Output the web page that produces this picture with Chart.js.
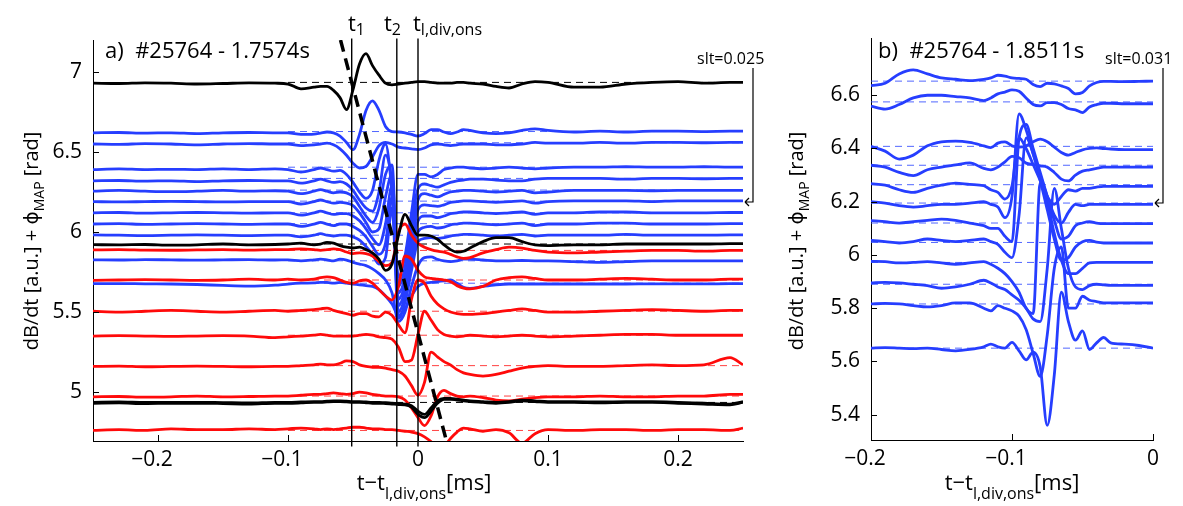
<!DOCTYPE html>
<html>
<head>
<meta charset="utf-8">
<script src="https://cdn.jsdelivr.net/npm/chart.js@4.4.1/dist/chart.umd.min.js"></script>
<style>
  body { margin: 0; background: #fff; }
  #wrapA { position: absolute; left: 0; top: 0; }
  #wrapB { position: absolute; left: 776px; top: 0; }
</style>
</head>
<body>
<div id="wrapA"><canvas id="chartA" width="776" height="506"></canvas></div>
<div id="wrapB"><canvas id="chartB" width="407" height="506"></canvas></div>
<script>
// ---------------- panel a) #25764 - 1.7574s ----------------
const xA = [-0.25,-0.23,-0.21,-0.19,-0.17,-0.15,-0.13,-0.11,
  -0.1,-0.09,-0.08,-0.075,-0.07,-0.065,-0.06,-0.055,-0.05,
  -0.045,-0.04,-0.035,-0.03,-0.025,-0.02,-0.015,-0.01,-0.005,0,
  0.005,0.01,0.015,0.02,0.025,0.03,0.035,0.04,
  0.05,0.06,0.07,0.08,0.09,0.1,
  0.12,0.14,0.16,0.18,0.2,0.22,0.24,0.25];

// black traces
const kTop = [6.93,6.928,6.932,6.93,6.925,6.928,6.932,6.93,
  6.925,6.895,6.905,6.91,6.91,6.885,6.84,6.765,6.89,
  7.05,7.115,7.04,6.98,6.93,6.92,6.925,6.93,6.935,6.94,
  6.94,6.935,6.93,6.93,6.93,6.935,6.935,6.93,
  6.925,6.91,6.90,6.925,6.94,6.935,
  6.905,6.905,6.925,6.935,6.94,6.93,6.935,6.935];
const kMid = [5.921,5.92,5.922,5.918,5.92,5.925,5.92,5.922,
  5.925,5.93,5.92,5.925,5.935,5.93,5.915,5.905,5.90,
  5.905,5.89,5.87,5.83,5.76,5.80,5.98,6.11,6.04,5.98,
  5.98,5.975,5.955,5.92,5.89,5.875,5.88,5.90,
  5.94,5.965,5.965,5.94,5.92,5.915,
  5.92,5.92,5.925,5.925,5.925,5.925,5.928,5.928];
const kLow1 = [4.93,4.932,4.928,4.93,4.93,4.928,4.925,4.93,
  4.93,4.932,4.935,4.935,4.938,4.94,4.94,4.938,4.935,
  4.935,4.933,4.93,4.93,4.928,4.925,4.922,4.92,4.905,4.86,
  4.84,4.88,4.93,4.955,4.955,4.95,4.945,4.94,
  4.935,4.93,4.935,4.945,4.94,4.935,
  4.935,4.932,4.935,4.935,4.93,4.925,4.92,4.935];
const kLow2 = [4.936,4.938,4.935,4.936,4.936,4.934,4.932,4.936,
  4.936,4.938,4.94,4.94,4.943,4.945,4.945,4.943,4.94,
  4.94,4.938,4.936,4.935,4.933,4.93,4.928,4.925,4.915,4.88,
  4.86,4.90,4.945,4.96,4.96,4.955,4.95,4.945,
  4.94,4.935,4.94,4.95,4.945,4.94,
  4.94,4.938,4.94,4.94,4.936,4.93,4.925,4.94];

// blue traces
const b1 = [6.62,6.622,6.618,6.62,6.615,6.62,6.622,6.62,
  6.62,6.61,6.612,6.618,6.625,6.62,6.60,6.56,6.515,
  6.61,6.76,6.82,6.76,6.66,6.628,6.625,6.62,6.61,6.60,
  6.615,6.64,6.64,6.625,6.615,6.625,6.64,6.635,
  6.62,6.615,6.62,6.635,6.645,6.635,
  6.625,6.63,6.625,6.63,6.63,6.628,6.63,6.63];
const b2 = [6.55,6.548,6.552,6.55,6.545,6.55,6.553,6.55,
  6.55,6.54,6.545,6.55,6.555,6.545,6.52,6.48,6.43,
  6.40,6.41,6.47,6.54,6.56,6.55,6.53,6.525,6.52,6.515,
  6.525,6.545,6.55,6.545,6.54,6.545,6.55,6.55,
  6.55,6.545,6.545,6.55,6.56,6.555,
  6.555,6.56,6.555,6.56,6.56,6.558,6.56,6.56];
const b3 = [6.39,6.395,6.39,6.392,6.39,6.395,6.39,6.395,
  6.39,6.375,6.39,6.40,6.39,6.38,6.385,6.36,6.31,
  6.25,6.21,6.26,6.45,6.55,6.25,5.72,5.85,6.12,6.36,
  6.36,6.345,6.36,6.39,6.40,6.405,6.405,6.40,
  6.395,6.40,6.405,6.40,6.395,6.40,
  6.405,6.405,6.408,6.405,6.405,6.408,6.405,6.405];
const b4 = [6.32,6.322,6.318,6.32,6.315,6.32,6.322,6.32,
  6.32,6.305,6.32,6.33,6.32,6.31,6.315,6.30,6.26,
  6.20,6.15,6.13,6.25,6.48,6.30,5.66,5.78,6.05,6.27,
  6.30,6.29,6.28,6.295,6.31,6.32,6.325,6.33,
  6.33,6.325,6.32,6.32,6.33,6.335,
  6.335,6.335,6.33,6.335,6.335,6.333,6.335,6.335];
const b5 = [6.255,6.26,6.255,6.252,6.255,6.26,6.255,6.258,
  6.255,6.24,6.255,6.265,6.255,6.245,6.25,6.245,6.22,
  6.16,6.10,6.06,6.15,6.36,6.42,5.62,5.72,5.98,6.20,
  6.24,6.23,6.22,6.235,6.25,6.255,6.26,6.26,
  6.255,6.25,6.255,6.26,6.245,6.25,
  6.26,6.26,6.26,6.258,6.26,6.26,6.26,6.26];
const b6 = [6.19,6.188,6.19,6.192,6.19,6.188,6.19,6.19,
  6.19,6.175,6.19,6.20,6.19,6.18,6.185,6.18,6.165,
  6.12,6.06,6.00,6.02,6.22,6.36,5.58,5.68,5.92,6.14,
  6.17,6.165,6.16,6.17,6.185,6.19,6.195,6.195,
  6.19,6.185,6.19,6.195,6.18,6.19,
  6.195,6.195,6.195,6.19,6.195,6.195,6.195,6.195];
const b7 = [6.12,6.122,6.118,6.12,6.122,6.12,6.118,6.12,
  6.12,6.105,6.12,6.13,6.12,6.11,6.115,6.115,6.10,
  6.07,6.02,5.96,5.92,6.05,6.29,5.54,5.64,5.87,6.07,
  6.10,6.10,6.09,6.10,6.115,6.12,6.125,6.125,
  6.12,6.115,6.12,6.125,6.11,6.12,
  6.12,6.125,6.125,6.12,6.12,6.12,6.122,6.122];
const b8 = [6.05,6.052,6.048,6.05,6.052,6.05,6.048,6.05,
  6.05,6.035,6.05,6.06,6.05,6.04,6.05,6.05,6.035,
  6.01,5.97,5.91,5.86,5.93,6.22,5.50,5.60,5.82,6.0,
  6.03,6.035,6.025,6.03,6.045,6.05,6.055,6.055,
  6.05,6.045,6.05,6.055,6.04,6.05,
  6.05,6.055,6.055,6.05,6.05,6.05,6.052,6.052];
const b9 = [5.982,5.98,5.978,5.98,5.982,5.98,5.978,5.98,
  5.98,5.97,5.98,5.99,5.98,5.975,5.98,5.98,5.97,
  5.95,5.91,5.86,5.80,5.84,6.15,5.46,5.56,5.76,5.94,
  5.96,5.965,5.96,5.965,5.975,5.98,5.985,5.985,
  5.98,5.975,5.98,5.985,5.975,5.98,
  5.98,5.98,5.985,5.98,5.98,5.98,5.982,5.982];
const b10 = [5.826,5.825,5.828,5.826,5.824,5.826,5.828,5.825,
  5.826,5.82,5.826,5.83,5.826,5.82,5.83,5.825,5.81,
  5.80,5.79,5.77,5.74,5.70,5.62,5.44,5.50,5.66,5.79,
  5.84,5.845,5.83,5.82,5.815,5.82,5.83,5.83,
  5.825,5.82,5.82,5.822,5.82,5.82,
  5.815,5.81,5.815,5.82,5.82,5.82,5.82,5.82];
const b11 = [5.677,5.678,5.676,5.675,5.672,5.666,5.662,5.668,
  5.675,5.68,5.682,5.685,5.685,5.68,5.685,5.68,5.675,
  5.67,5.665,5.66,5.64,5.60,5.55,5.48,5.52,5.60,5.66,
  5.68,5.685,5.69,5.695,5.70,5.68,5.655,5.648,
  5.66,5.67,5.675,5.675,5.675,5.675,
  5.675,5.675,5.675,5.676,5.676,5.676,5.677,5.677];

// red traces
const r1 = [5.888,5.89,5.887,5.886,5.888,5.89,5.887,5.89,
  5.89,5.895,5.89,5.885,5.89,5.895,5.89,5.875,5.865,
  5.87,5.865,5.85,5.815,5.79,5.81,6.0,6.05,5.98,5.93,
  5.905,5.89,5.88,5.875,5.86,5.845,5.835,5.84,
  5.87,5.89,5.905,5.90,5.885,5.875,
  5.87,5.875,5.88,5.885,5.885,5.88,5.885,5.885];
const r2 = [5.698,5.70,5.702,5.70,5.698,5.70,5.705,5.70,
  5.705,5.70,5.705,5.715,5.72,5.715,5.70,5.685,5.68,
  5.695,5.70,5.68,5.64,5.60,5.575,5.66,5.85,5.83,5.76,
  5.72,5.71,5.705,5.70,5.69,5.665,5.65,5.645,
  5.66,5.70,5.715,5.72,5.71,5.70,
  5.70,5.705,5.71,5.705,5.70,5.70,5.705,5.705];
const r3 = [5.505,5.50,5.505,5.51,5.505,5.50,5.505,5.51,
  5.505,5.51,5.515,5.52,5.525,5.51,5.50,5.49,5.48,
  5.49,5.49,5.475,5.47,5.50,5.48,5.42,5.37,5.58,5.70,
  5.68,5.60,5.55,5.52,5.50,5.49,5.485,5.485,
  5.49,5.50,5.51,5.52,5.51,5.50,
  5.50,5.505,5.51,5.515,5.51,5.505,5.51,5.51];
const r4 = [5.35,5.352,5.35,5.348,5.35,5.352,5.35,5.34,
  5.345,5.35,5.355,5.36,5.355,5.35,5.35,5.35,5.35,
  5.355,5.36,5.355,5.345,5.34,5.33,5.28,5.19,5.20,5.36,
  5.505,5.45,5.39,5.36,5.35,5.345,5.35,5.355,
  5.35,5.345,5.35,5.355,5.35,5.345,
  5.35,5.355,5.36,5.36,5.355,5.355,5.355,5.355];
const r5 = [5.16,5.162,5.158,5.16,5.162,5.16,5.158,5.16,
  5.16,5.165,5.17,5.175,5.17,5.17,5.18,5.195,5.19,
  5.17,5.16,5.155,5.155,5.15,5.14,5.13,5.10,5.04,4.98,
  5.06,5.25,5.22,5.19,5.17,5.14,5.12,5.11,
  5.10,5.11,5.13,5.15,5.16,5.165,
  5.16,5.16,5.165,5.17,5.165,5.17,5.215,5.17];
const r6 = [4.97,4.972,4.968,4.97,4.975,4.97,4.972,4.975,
  4.975,4.98,4.985,4.985,4.99,4.995,4.99,4.985,4.99,
  5.0,4.995,4.985,4.98,4.975,4.975,4.97,4.95,4.90,4.84,
  4.79,4.85,4.97,5.01,4.99,4.975,4.97,4.975,
  4.965,4.95,4.945,4.955,4.965,4.97,
  4.97,4.975,4.97,4.97,4.975,4.975,4.985,4.985];
const r7 = [4.76,4.765,4.76,4.77,4.765,4.765,4.77,4.765,
  4.77,4.775,4.77,4.765,4.77,4.765,4.77,4.775,4.78,
  4.78,4.775,4.77,4.77,4.765,4.765,4.76,4.755,4.75,4.74,
  4.72,4.69,4.65,4.66,4.71,4.75,4.775,4.77,
  4.755,4.765,4.745,4.68,4.74,4.765,
  4.76,4.765,4.765,4.76,4.765,4.765,4.76,4.775];

// reference (dashed) levels
const refBlackA = [6.935, 5.925, 4.935];
const refBlueA = [6.628, 6.558, 6.405, 6.335, 6.262, 6.193, 6.12, 6.052, 5.98, 5.82, 5.68];
const refRedA = [5.885, 5.70, 5.505, 5.355, 5.165, 4.975, 4.76];

const xTicksA = [-0.2, -0.1, 0, 0.1, 0.2];
const yTicksA = [5, 5.5, 6, 6.5, 7];
const tMarks = [-0.051, -0.0163, 0];
const tSubs = ['1', '2', 'l,div,ons'];
const tLabelX = [348, 384, 413];
const frontX = [-0.0596, 0.0219];
const frontY = [7.2, 4.694];

// ---------------- panel b) #25764 - 1.8511s ----------------
const xB = [-0.2,-0.19,-0.18,-0.17,-0.16,-0.15,-0.14,-0.13,-0.12,-0.115,
  -0.11,-0.105,-0.1,-0.095,-0.09,-0.085,-0.08,-0.075,-0.07,-0.065,
  -0.06,-0.055,-0.05,-0.045,-0.04,-0.035,-0.03,-0.02,-0.01,0];
const p1 = [6.636,6.645,6.68,6.695,6.68,6.665,6.66,6.655,6.66,6.665,
  6.675,6.672,6.665,6.663,6.66,6.64,6.632,6.645,6.643,6.635,
  6.625,6.605,6.61,6.635,6.648,6.652,6.652,6.651,6.652,6.653];
const p2 = [6.559,6.548,6.565,6.59,6.60,6.60,6.595,6.59,6.58,6.59,
  6.605,6.612,6.62,6.615,6.59,6.565,6.56,6.572,6.572,6.565,
  6.55,6.545,6.535,6.556,6.565,6.57,6.57,6.568,6.568,6.568];
const p3 = [6.408,6.39,6.36,6.375,6.41,6.425,6.428,6.423,6.41,6.403,
  6.42,6.425,6.41,6.405,6.41,6.425,6.435,6.425,6.405,6.385,
  6.375,6.385,6.395,6.40,6.402,6.40,6.398,6.396,6.396,6.396];
const p4 = [6.337,6.33,6.31,6.298,6.32,6.33,6.338,6.346,6.325,6.32,
  6.33,6.35,6.37,6.365,6.345,6.34,6.335,6.33,6.31,6.285,
  6.278,6.30,6.315,6.32,6.325,6.33,6.33,6.33,6.33,6.33];
const p5 = [6.268,6.262,6.245,6.235,6.25,6.262,6.27,6.265,6.26,6.245,
  6.235,6.21,6.26,6.44,6.40,6.34,6.28,6.22,6.19,6.22,
  6.245,6.24,6.25,6.25,6.255,6.258,6.258,6.258,6.258,6.258];
const p6 = [6.20,6.195,6.185,6.18,6.185,6.19,6.19,6.195,6.20,6.19,
  6.18,6.14,6.22,6.53,6.47,6.38,6.30,6.22,6.15,6.12,
  6.16,6.19,6.185,6.19,6.19,6.19,6.19,6.19,6.19,6.19];
const p7 = [6.129,6.125,6.12,6.125,6.13,6.135,6.13,6.12,6.11,6.10,
  6.10,6.07,6.05,6.44,6.49,6.40,6.31,6.22,6.13,6.06,
  6.07,6.11,6.12,6.125,6.12,6.118,6.118,6.118,6.118,6.118];
const p8 = [6.055,6.05,6.045,6.05,6.06,6.055,6.05,6.055,6.06,6.05,
  6.04,6.01,5.99,6.15,6.44,6.38,6.28,6.17,6.06,5.98,
  5.99,6.03,6.05,6.055,6.048,6.045,6.045,6.045,6.045,6.045];
const p9 = [5.976,5.975,5.97,5.972,5.975,5.97,5.965,5.97,5.975,5.965,
  5.95,5.93,5.90,5.86,5.80,5.78,6.27,6.20,6.08,5.98,
  5.93,5.93,5.95,5.97,5.972,5.972,5.972,5.972,5.972,5.972];
const p10 = [5.895,5.897,5.895,5.89,5.885,5.875,5.88,5.89,5.905,5.895,
  5.88,5.87,5.85,5.83,5.80,5.76,5.75,5.95,6.25,6.10,
  5.95,5.88,5.87,5.885,5.89,5.888,5.886,5.886,5.886,5.886];
const p11 = [5.816,5.818,5.816,5.81,5.805,5.81,5.82,5.82,5.80,5.79,
  5.81,5.80,5.79,5.77,5.72,5.63,5.544,5.70,5.95,6.03,
  5.80,5.80,5.845,5.83,5.825,5.82,5.82,5.82,5.82,5.82];
const p12 = [5.65,5.652,5.65,5.648,5.65,5.645,5.64,5.645,5.655,5.665,
  5.655,5.65,5.672,5.64,5.606,5.635,5.58,5.36,5.55,5.86,
  5.75,5.68,5.715,5.645,5.67,5.69,5.67,5.665,5.66,5.65];
const refBlueB = [6.653, 6.575, 6.408, 6.337, 6.264, 6.195, 6.12, 6.047, 5.972, 5.89, 5.816, 5.65];

const xTicksB = [-0.2, -0.1, 0];
const yTicksB = [5.4, 5.6, 5.8, 6, 6.2, 6.4, 6.6];

// ---------------- drawing ----------------
const BLUE = 'rgb(38,62,255)';
const RED = 'rgb(255,10,10)';
const BLACK = '#000';
const BLUE_REF = 'rgba(50,75,255,0.85)';
const RED_REF = 'rgba(255,30,30,0.85)';
const FAM = '"Open Sans", "DejaVu Sans", sans-serif';
const font = s => s + 'px ' + FAM;

function trace(xs, ys, color, order) {
  return {
    data: xs.map((x, i) => ({ x, y: ys[i] })),
    borderColor: color, borderWidth: 2.8, pointRadius: 0,
    cubicInterpolationMode: 'monotone', order
  };
}
function refLine(x0, x1, v, color) {
  return {
    data: [{ x: x0, y: v }, { x: x1, y: v }],
    borderColor: color, borderWidth: 1, pointRadius: 0,
    borderDash: [7, 5], order: 5
  };
}
function fmtX(v) {
  if (v === 0) return '0';
  return v < 0 ? '\u2212' + Math.abs(v) + '\u2007' : String(v);
}

// text with subscripts: parts = [[text, isSub], ...]
function rich(ctx, parts, x, y, size, align, subDy) {
  const sub = Math.round(size * 0.72);
  let total = 0;
  const w = parts.map(p => { ctx.font = font(p[1] ? sub : size); const m = ctx.measureText(p[0]).width; total += m; return m; });
  let cx = align === 'center' ? x - total / 2 : x;
  ctx.textAlign = 'left';
  ctx.textBaseline = 'alphabetic';
  parts.forEach((p, i) => {
    ctx.font = font(p[1] ? sub : size);
    ctx.fillText(p[0], cx, y + (p[1] ? subDy : 0));
    cx += w[i];
  });
}
const yTitle = [['dB/dt [a.u.] + \u03D5', false], ['MAP', true], [' [rad]', false]];
const xTitle = [['t\u2212t', false], ['l,div,ons', true], ['[ms]', false]];

function drawBracket(ctx, bx, y0, y1) {
  ctx.beginPath();
  ctx.moveTo(bx, y0); ctx.lineTo(bx, y1); ctx.lineTo(bx - 8, y1);
  ctx.moveTo(bx - 8, y1); ctx.lineTo(bx - 4, y1 - 4);
  ctx.moveTo(bx - 8, y1); ctx.lineTo(bx - 4, y1 + 4);
  ctx.stroke();
}

const innerTicks = {
  id: 'innerTicks',
  afterDraw(chart) {
    const { ctx, chartArea: a, scales: { x, y } } = chart;
    ctx.save();
    ctx.strokeStyle = '#000'; ctx.lineWidth = 1;
    ctx.beginPath();
    x.ticks.forEach(t => { const px = Math.round(x.getPixelForValue(t.value)) + 0.5; ctx.moveTo(px, a.bottom); ctx.lineTo(px, a.bottom - 6); });
    y.ticks.forEach(t => { const py = Math.round(y.getPixelForValue(t.value)) + 0.5; ctx.moveTo(a.left, py); ctx.lineTo(a.left + 6, py); });
    ctx.stroke();
    ctx.restore();
  }
};

const decoA = {
  id: 'decoA',
  afterDraw(chart) {
    const { ctx, scales: { x, y } } = chart;
    ctx.save();
    ctx.strokeStyle = '#000'; ctx.fillStyle = '#000'; ctx.lineWidth = 1.4;
    tMarks.forEach((v, i) => {
      const px = x.getPixelForValue(v);
      ctx.beginPath(); ctx.moveTo(px, y.getPixelForValue(7.21)); ctx.lineTo(px, y.getPixelForValue(4.66)); ctx.stroke();
      rich(ctx, [['t', false], [tSubs[i], true]], tLabelX[i], 31, 22, 'left', 4);
    });
    ctx.font = font(22);
    ctx.fillText('a)  #25764 - 1.7574s', 105, 58);
    ctx.font = font(16);
    ctx.fillText('slt=0.025', 697, 64);
    ctx.lineWidth = 1.2;
    drawBracket(ctx, 753, 68, 202);
    rich(ctx, xTitle, 424, 490, 22, 'center', 9);
    ctx.translate(38, 241);
    ctx.rotate(-Math.PI / 2);
    rich(ctx, yTitle, 0, 0, 20, 'center', 6);
    ctx.restore();
  }
};

const decoB = {
  id: 'decoB',
  afterDraw(chart) {
    const { ctx } = chart;
    ctx.save();
    ctx.strokeStyle = '#000'; ctx.fillStyle = '#000';
    ctx.font = font(22);
    ctx.fillText('b)  #25764 - 1.8511s', 102, 58);
    ctx.font = font(16);
    ctx.fillText('slt=0.031', 329, 64);
    ctx.lineWidth = 1.2;
    drawBracket(ctx, 387, 68, 203);
    rich(ctx, xTitle, 236, 490, 22, 'center', 9);
    ctx.translate(27, 241);
    ctx.rotate(-Math.PI / 2);
    rich(ctx, yTitle, 0, 0, 20, 'center', 6);
    ctx.restore();
  }
};

function axes(xmin, xmax, ymin, ymax, xt, yt, xh, yw) {
  const common = {
    grid: { display: false, drawTicks: false },
    border: { display: true, color: '#000', width: 1 }
  };
  return {
    x: Object.assign({
      type: 'linear', min: xmin, max: xmax,
      afterBuildTicks: s => { s.ticks = xt.map(v => ({ value: v })); },
      afterFit: s => { s.height = xh; },
      ticks: { callback: fmtX, font: { family: FAM, size: 21 }, color: '#000', padding: 6, maxRotation: 0, autoSkip: false }
    }, common),
    y: Object.assign({
      type: 'linear', min: ymin, max: ymax,
      afterBuildTicks: s => { s.ticks = yt.map(v => ({ value: v })); },
      afterFit: s => { s.width = yw; },
      ticks: { callback: v => String(v), font: { family: FAM, size: 21 }, color: '#000', padding: 11, autoSkip: false }
    }, common)
  };
}

const baseOpts = {
  responsive: false, animation: false, devicePixelRatio: 1,
  plugins: { legend: { display: false }, tooltip: { enabled: false } },
  elements: { line: { fill: false } }
};

// panel a datasets
const dsA = [];
dsA.push({ data: frontX.map((x, i) => ({ x, y: frontY[i] })), borderColor: BLACK, borderWidth: 3.5,
  borderDash: [12, 7], pointRadius: 0, order: -1 });
[kTop, kMid, kLow1, kLow2].forEach(ys => dsA.push(trace(xA, ys, BLACK, 0)));
[r1, r2, r3, r4, r5, r6, r7].forEach(ys => dsA.push(trace(xA, ys, RED, 1)));
[b1, b2, b3, b4, b5, b6, b7, b8, b9, b10, b11].forEach(ys => dsA.push(trace(xA, ys, BLUE, 2)));
refBlackA.forEach(v => dsA.push(refLine(-0.1, 0.25, v, BLACK)));
refBlueA.forEach(v => dsA.push(refLine(-0.1, 0.25, v, BLUE_REF)));
refRedA.forEach(v => dsA.push(refLine(-0.1, 0.25, v, RED_REF)));

new Chart(document.getElementById('chartA'), {
  type: 'line',
  data: { datasets: dsA },
  options: Object.assign({}, baseOpts, {
    layout: { padding: { left: 0, right: 33, top: 40, bottom: 0 } },
    scales: axes(-0.25, 0.25, 4.694, 7.2, xTicksA, yTicksA, 65, 93)
  }),
  plugins: [innerTicks, decoA]
});

// panel b datasets
const dsB = [];
[p1, p2, p3, p4, p5, p6, p7, p8, p9, p10, p11, p12].forEach(ys => dsB.push(trace(xB, ys, BLUE, 1)));
refBlueB.forEach(v => dsB.push(refLine(-0.2, 0, v, BLUE_REF)));

new Chart(document.getElementById('chartB'), {
  type: 'line',
  data: { datasets: dsB },
  options: Object.assign({}, baseOpts, {
    layout: { padding: { left: 0, right: 30, top: 38, bottom: 0 } },
    scales: axes(-0.2, 0, 5.305, 6.815, xTicksB, yTicksB, 66, 95)
  }),
  plugins: [innerTicks, decoB]
});
</script>
</body>
</html>
